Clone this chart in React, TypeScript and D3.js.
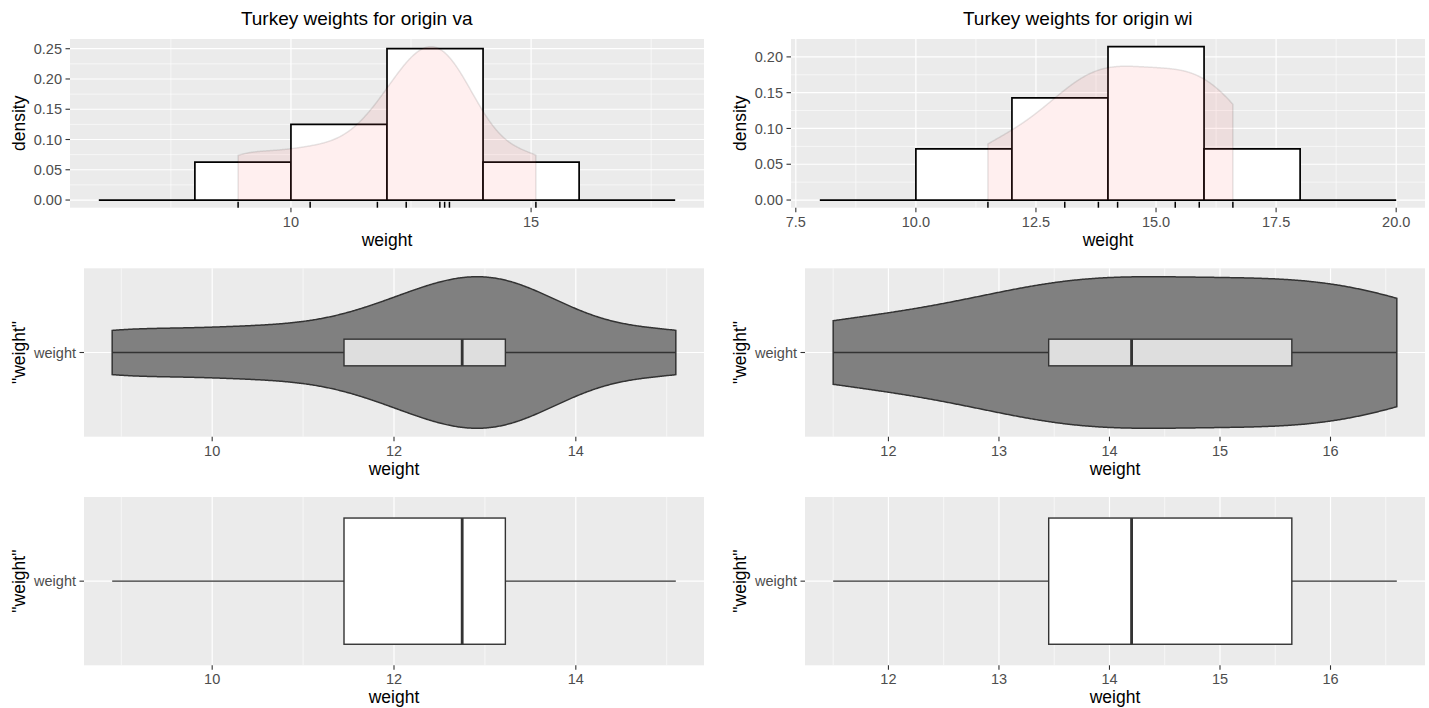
import React from "react";
import * as d3 from "d3";

// Turkey weights by origin
const vaWeights = [8.9, 10.4, 11.8, 12.4, 13.1, 13.2, 13.3, 15.1];
const wiWeights = [11.5, 13.1, 13.8, 14.2, 15.4, 15.9, 16.6];

// Histogram breaks
const vaBreaks = [6, 8, 10, 12, 14, 16, 18];
const wiBreaks = [8, 10, 12, 14, 16, 18, 20];

// Histogram axis ticks
const vaHistXTicks = [10, 15];
const vaHistXMinor = [7.5, 12.5, 17.5];
const wiHistXTicks = [7.5, 10, 12.5, 15, 17.5, 20];
const wiHistXMinor = [8.75, 11.25, 13.75, 16.25, 18.75];
const vaHistYTicks = [0, 0.05, 0.1, 0.15, 0.2, 0.25];
const vaHistYMinor = [0.025, 0.075, 0.125, 0.175, 0.225];
const wiHistYTicks = [0, 0.05, 0.1, 0.15, 0.2];
const wiHistYMinor = [0.025, 0.075, 0.125, 0.175];

// Violin / boxplot axis ticks
const vaWeightTicks = [10, 12, 14];
const vaWeightMinor = [9, 11, 13, 15];
const wiWeightTicks = [12, 13, 14, 15, 16];
const wiWeightMinor = [11.5, 12.5, 13.5, 14.5, 15.5, 16.5];

const W = 1429;
const H = 708;
const FONT = "'Liberation Sans', Arial, Helvetica, sans-serif";

const PANEL_BG = "#EBEBEB";
const GRID = "#FFFFFF";
const AXIS_TEXT = "#4D4D4D";
const TICK = "#333333";
const OUTLINE = "#333333";

const TICK_FONT = 14.5;
const TITLE_FONT = 17.5;
const PLOT_TITLE_FONT = 19;
const TICK_LEN = 4.5;
const Y_TITLE_X = 25;

const ROW1 = { top: 39, bottom: 207.7, left: 70, right: 704 };
const ROW2 = { top: 268.3, bottom: 436.7, left: 84, right: 704 };
const ROW3 = { top: 497, bottom: 665.3, left: 84, right: 704 };

const COL_OFFSET = [0, 721];

const VIOLIN_WIDTH = 1.08;
const INNER_BOX_WIDTH = 0.19;
const BOX_WIDTH = 0.9;

function bwNrd0(x: number[]) {
  const s = [...x].sort(d3.ascending);
  const sd = d3.deviation(s) as number;
  const iqr = (d3.quantile(s, 0.75) as number) - (d3.quantile(s, 0.25) as number);
  const lo = Math.min(sd, iqr / 1.34);
  return 0.9 * lo * Math.pow(x.length, -0.2);
}

function kde(x: number[], n = 512): [number, number][] {
  const bw = bwNrd0(x);
  const [lo, hi] = d3.extent(x) as [number, number];
  const norm = x.length * bw * Math.sqrt(2 * Math.PI);
  return d3.range(n).map((i) => {
    const t = lo + ((hi - lo) * i) / (n - 1);
    const s = d3.sum(x, (v) => Math.exp(-0.5 * ((t - v) / bw) ** 2));
    return [t, s / norm];
  });
}

function boxStats(x: number[]) {
  const s = [...x].sort(d3.ascending);
  const q1 = d3.quantile(s, 0.25) as number;
  const med = d3.quantile(s, 0.5) as number;
  const q3 = d3.quantile(s, 0.75) as number;
  const iqr = q3 - q1;
  const lowW = d3.min(s.filter((v) => v >= q1 - 1.5 * iqr)) as number;
  const highW = d3.max(s.filter((v) => v <= q3 + 1.5 * iqr)) as number;
  return { q1, med, q3, lowW, highW };
}

function expanded(lo: number, hi: number, mult = 0.05): [number, number] {
  const r = hi - lo;
  return [lo - r * mult, hi + r * mult];
}

function fmt(v: number, digits: number) {
  return v.toFixed(digits);
}

type Box = { top: number; bottom: number; left: number; right: number };

function XAxis({ x, ticks, p, ox, digits, label }: any) {
  const L = ox + p.left;
  const R = ox + p.right;
  return (
    <g>
      {ticks.map((t: number) => (
        <g key={"xt" + t}>
          <line x1={x(t)} x2={x(t)} y1={p.bottom} y2={p.bottom + TICK_LEN} stroke={TICK} strokeWidth={1.1} />
          <text x={x(t)} y={p.bottom + 19} textAnchor="middle" fontSize={TICK_FONT} fill={AXIS_TEXT}>
            {fmt(t, digits)}
          </text>
        </g>
      ))}
      <text x={(L + R) / 2} y={p.bottom + 38} textAnchor="middle" fontSize={TITLE_FONT} fill="#000">
        {label}
      </text>
    </g>
  );
}

function VerticalGrid({ x, ticks, minor, p }: any) {
  return (
    <g>
      {minor.map((t: number) => (
        <line key={"vm" + t} x1={x(t)} x2={x(t)} y1={p.top} y2={p.bottom} stroke={GRID} strokeWidth={0.6} />
      ))}
      {ticks.map((t: number) => (
        <line key={"vM" + t} x1={x(t)} x2={x(t)} y1={p.top} y2={p.bottom} stroke={GRID} strokeWidth={1.2} />
      ))}
    </g>
  );
}

function HistPanel({ data, breaks, xTicks, xMinor, yTicks, yMinor, ox, xDigits, title }: any) {
  const p: Box = ROW1;
  const L = ox + p.left;
  const R = ox + p.right;
  const n = data.length;
  const bins = d3
    .bin()
    .domain([breaks[0], breaks[breaks.length - 1]])
    .thresholds(breaks.slice(1, -1))(data);
  const hist = bins.map((b) => ({
    x0: b.x0 as number,
    x1: b.x1 as number,
    density: b.length / (n * ((b.x1 as number) - (b.x0 as number))),
  }));
  const dens = kde(data);
  const yMax = Math.max(d3.max(hist, (h) => h.density) as number, d3.max(dens, (d) => d[1]) as number);

  const x = d3.scaleLinear().domain(expanded(breaks[0], breaks[breaks.length - 1])).range([L, R]);
  const y = d3.scaleLinear().domain(expanded(0, yMax)).range([p.bottom, p.top]);

  const area = d3
    .area<[number, number]>()
    .x((d) => x(d[0]))
    .y0(y(0))
    .y1((d) => y(d[1]));
  const outline = d3
    .line<[number, number]>()
    .x((d) => x(d[0]))
    .y((d) => y(d[1]));
  const [dLo, dHi] = d3.extent(data) as [number, number];
  const outlinePts: [number, number][] = [[dLo, 0], ...dens, [dHi, 0]];
  const rugLen = 0.035 * (p.bottom - p.top);

  return (
    <g>
      <text x={ox + 356.7} y={25} textAnchor="middle" fontSize={PLOT_TITLE_FONT} fill="#000">
        {title}
      </text>
      <rect x={L} y={p.top} width={R - L} height={p.bottom - p.top} fill={PANEL_BG} />
      {yMinor.map((t: number) => (
        <line key={"hm" + t} x1={L} x2={R} y1={y(t)} y2={y(t)} stroke={GRID} strokeWidth={0.6} />
      ))}
      {yTicks.map((t: number) => (
        <line key={"hM" + t} x1={L} x2={R} y1={y(t)} y2={y(t)} stroke={GRID} strokeWidth={1.2} />
      ))}
      <VerticalGrid x={x} ticks={xTicks} minor={xMinor} p={p} />
      {hist.map((h, i) => (
        <path
          key={"bar" + i}
          d={`M${x(h.x0)},${y(0)}H${x(h.x1)}V${y(h.density)}H${x(h.x0)}Z`}
          fill="#FFFFFF"
          stroke="#000"
          strokeWidth={1.7}
          strokeLinejoin="miter"
        />
      ))}
      <path d={area(dens) as string} fill="#FF6666" fillOpacity={0.1} stroke="none" />
      <path d={outline(outlinePts) as string} fill="none" stroke="#000" strokeOpacity={0.1} strokeWidth={1.5} />
      {data.map((v: number, i: number) => (
        <line key={"rug" + i} x1={x(v)} x2={x(v)} y1={p.bottom} y2={p.bottom - rugLen} stroke="#000" strokeWidth={1.5} />
      ))}
      {yTicks.map((t: number) => (
        <g key={"yt" + t}>
          <line x1={L - TICK_LEN} x2={L} y1={y(t)} y2={y(t)} stroke={TICK} strokeWidth={1.1} />
          <text x={L - 8} y={y(t)} dy="0.36em" textAnchor="end" fontSize={TICK_FONT} fill={AXIS_TEXT}>
            {fmt(t, 2)}
          </text>
        </g>
      ))}
      <text
        transform={`translate(${ox + Y_TITLE_X},${(p.top + p.bottom) / 2}) rotate(-90)`}
        textAnchor="middle"
        fontSize={TITLE_FONT}
        fill="#000"
      >
        density
      </text>
      <XAxis x={x} ticks={xTicks} p={p} ox={ox} digits={xDigits} label="weight" />
    </g>
  );
}

function CategoryFrame({ p, ox, x, xTicks, xMinor, y, children }: any) {
  const L = ox + p.left;
  const R = ox + p.right;
  return (
    <g>
      <rect x={L} y={p.top} width={R - L} height={p.bottom - p.top} fill={PANEL_BG} />
      <VerticalGrid x={x} ticks={xTicks} minor={xMinor} p={p} />
      <line x1={L} x2={R} y1={y(1)} y2={y(1)} stroke={GRID} strokeWidth={1.2} />
      {children}
      <line x1={L - TICK_LEN} x2={L} y1={y(1)} y2={y(1)} stroke={TICK} strokeWidth={1.1} />
      <text x={L - 8} y={y(1)} dy="0.36em" textAnchor="end" fontSize={TICK_FONT} fill={AXIS_TEXT}>
        weight
      </text>
      <text
        transform={`translate(${ox + Y_TITLE_X},${(p.top + p.bottom) / 2}) rotate(-90)`}
        textAnchor="middle"
        fontSize={TITLE_FONT}
        fill="#000"
      >
        "weight"
      </text>
      <XAxis x={x} ticks={xTicks} p={p} ox={ox} digits={0} label="weight" />
    </g>
  );
}

function BoxGlyph({ stats, x, y, width, fill }: any) {
  const yTop = y(1 + width / 2);
  const yBot = y(1 - width / 2);
  return (
    <g>
      <line x1={x(stats.lowW)} x2={x(stats.q1)} y1={y(1)} y2={y(1)} stroke={OUTLINE} strokeWidth={1.4} />
      <line x1={x(stats.q3)} x2={x(stats.highW)} y1={y(1)} y2={y(1)} stroke={OUTLINE} strokeWidth={1.4} />
      <rect
        x={x(stats.q1)}
        y={yTop}
        width={x(stats.q3) - x(stats.q1)}
        height={yBot - yTop}
        fill={fill}
        stroke={OUTLINE}
        strokeWidth={1.4}
      />
      <line x1={x(stats.med)} x2={x(stats.med)} y1={yTop} y2={yBot} stroke={OUTLINE} strokeWidth={2.8} />
    </g>
  );
}

function ViolinPanel({ data, xTicks, xMinor, ox }: any) {
  const p: Box = ROW2;
  const [lo, hi] = d3.extent(data) as [number, number];
  const x = d3.scaleLinear().domain(expanded(lo, hi)).range([ox + p.left, ox + p.right]);
  const y = d3.scaleLinear().domain([0.4, 1.6]).range([p.bottom, p.top]);
  const dens = kde(data);
  const maxD = d3.max(dens, (d) => d[1]) as number;
  const hw = VIOLIN_WIDTH / 2;
  const upper = dens.map((d) => [x(d[0]), y(1 + (d[1] / maxD) * hw)] as [number, number]);
  const lower = dens.map((d) => [x(d[0]), y(1 - (d[1] / maxD) * hw)] as [number, number]).reverse();
  const violin = d3.line()([...upper, ...lower]) + "Z";
  const stats = boxStats(data);
  return (
    <CategoryFrame p={p} ox={ox} x={x} xTicks={xTicks} xMinor={xMinor} y={y}>
      <path d={violin} fill="#808080" stroke={OUTLINE} strokeWidth={1.5} />
      <BoxGlyph stats={stats} x={x} y={y} width={INNER_BOX_WIDTH} fill="#DEDEDE" />
    </CategoryFrame>
  );
}

function BoxPanel({ data, xTicks, xMinor, ox }: any) {
  const p: Box = ROW3;
  const [lo, hi] = d3.extent(data) as [number, number];
  const x = d3.scaleLinear().domain(expanded(lo, hi)).range([ox + p.left, ox + p.right]);
  const y = d3.scaleLinear().domain([0.4, 1.6]).range([p.bottom, p.top]);
  const stats = boxStats(data);
  return (
    <CategoryFrame p={p} ox={ox} x={x} xTicks={xTicks} xMinor={xMinor} y={y}>
      <BoxGlyph stats={stats} x={x} y={y} width={BOX_WIDTH} fill="#FFFFFF" />
    </CategoryFrame>
  );
}

const columns = [
  {
    origin: "va",
    data: vaWeights,
    breaks: vaBreaks,
    histXTicks: vaHistXTicks,
    histXMinor: vaHistXMinor,
    histYTicks: vaHistYTicks,
    histYMinor: vaHistYMinor,
    histXDigits: 0,
    weightTicks: vaWeightTicks,
    weightMinor: vaWeightMinor,
  },
  {
    origin: "wi",
    data: wiWeights,
    breaks: wiBreaks,
    histXTicks: wiHistXTicks,
    histXMinor: wiHistXMinor,
    histYTicks: wiHistYTicks,
    histYMinor: wiHistYMinor,
    histXDigits: 1,
    weightTicks: wiWeightTicks,
    weightMinor: wiWeightMinor,
  },
];

export default function App() {
  return (
    <svg
      width={W}
      height={H}
      viewBox={`0 0 ${W} ${H}`}
      style={{ position: "absolute", left: 0, top: 0, display: "block" }}
      fontFamily={FONT}
    >
      <rect width={W} height={H} fill="#FFFFFF" />
      {columns.map((c, i) => (
        <g key={c.origin}>
          <HistPanel
            data={c.data}
            breaks={c.breaks}
            xTicks={c.histXTicks}
            xMinor={c.histXMinor}
            yTicks={c.histYTicks}
            yMinor={c.histYMinor}
            ox={COL_OFFSET[i]}
            xDigits={c.histXDigits}
            title={`Turkey weights for origin ${c.origin}`}
          />
          <ViolinPanel data={c.data} xTicks={c.weightTicks} xMinor={c.weightMinor} ox={COL_OFFSET[i]} />
          <BoxPanel data={c.data} xTicks={c.weightTicks} xMinor={c.weightMinor} ox={COL_OFFSET[i]} />
        </g>
      ))}
    </svg>
  );
}
